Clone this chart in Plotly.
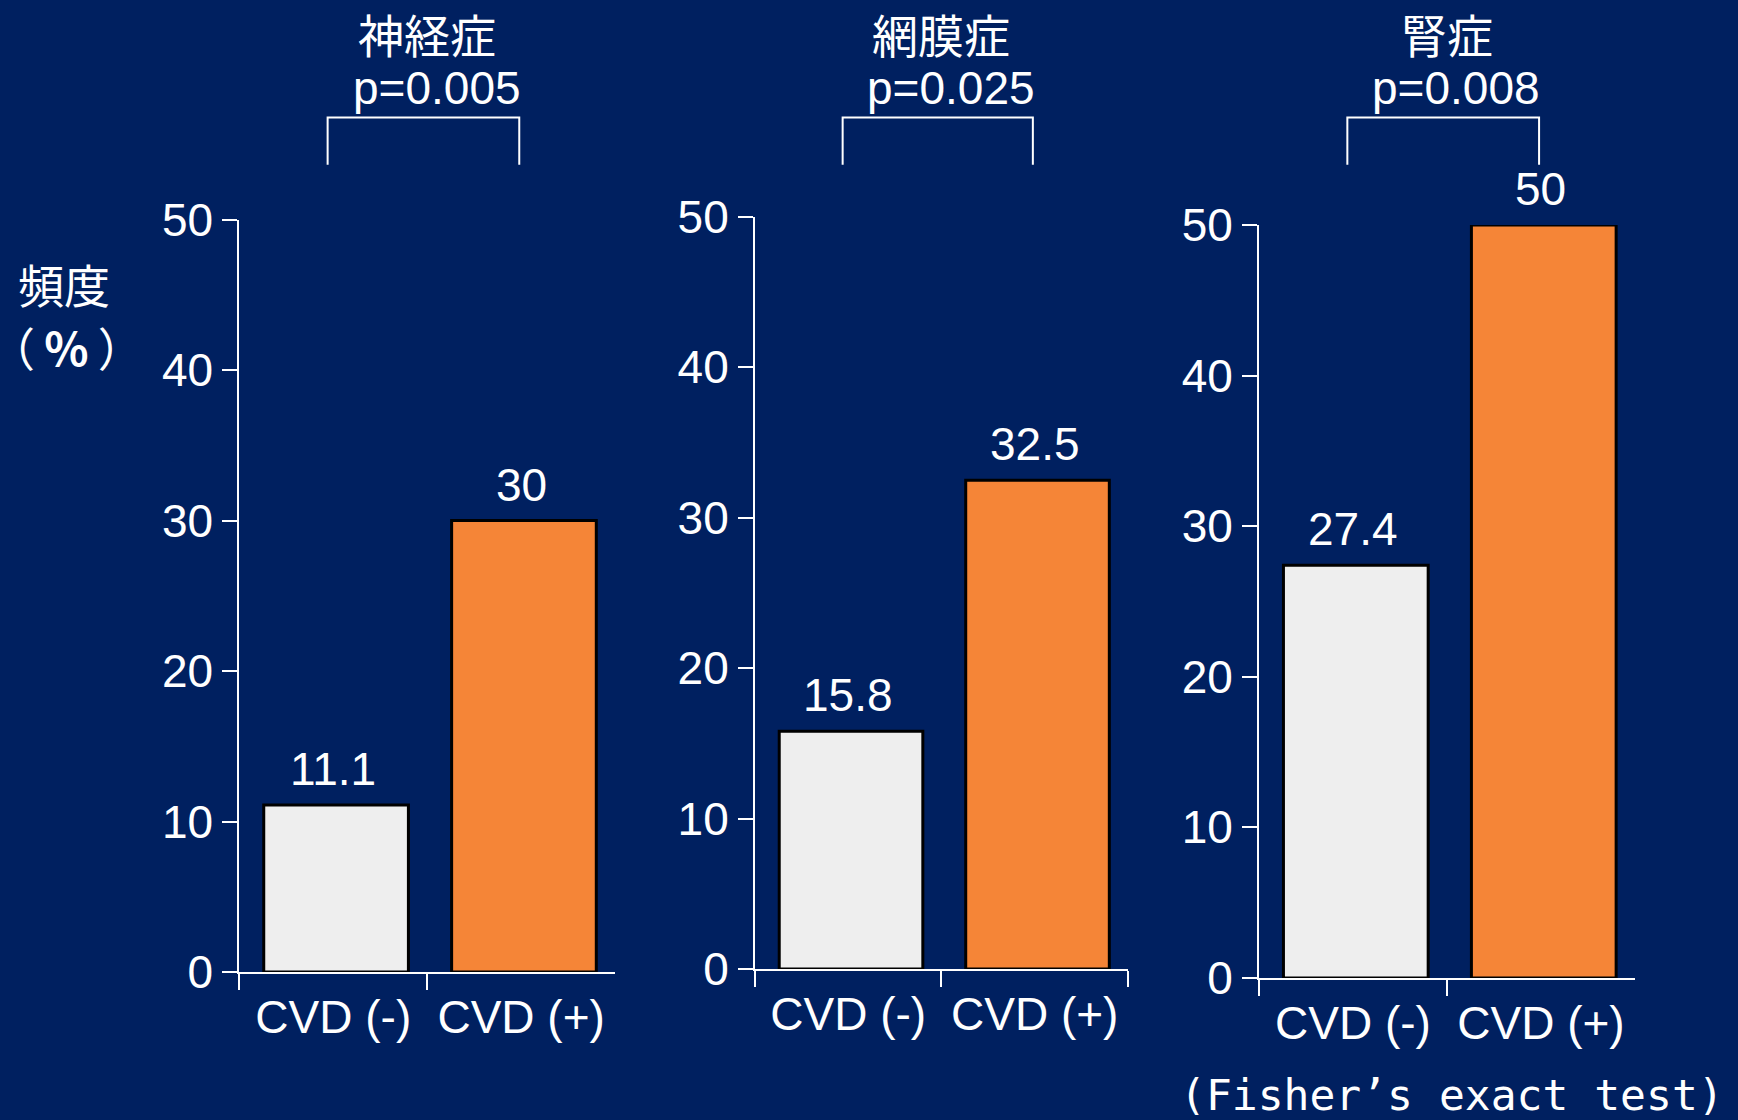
import plotly.graph_objects as go

# ---- data ----
categories = ["CVD (-)", "CVD (+)"]
panel_titles = ["神経症", "網膜症", "腎症"]
p_values = ["p=0.005", "p=0.025", "p=0.008"]
neuropathy = [11.1, 30.0]
retinopathy = [15.8, 32.5]
nephropathy = [27.4, 50.0]
series = [neuropathy, retinopathy, nephropathy]
value_labels = [["11.1", "30"], ["15.8", "32.5"], ["27.4", "50"]]
y_ticks = [0, 10, 20, 30, 40, 50]

BG = "#002060"
BAR_COLORS = ["#EEEEEE", "#F58537"]
FONT = "Liberation Sans, Arial, sans-serif"
CJK = "Noto Sans CJK JP, sans-serif"
FS = 46

# panel layout (paper fractions)
x_domains = [[0.1377, 0.3539], [0.4344, 0.6490], [0.7244, 0.9407]]
y_domains = [[0.1321, 0.8040], [0.1348, 0.8063], [0.1268, 0.7991]]

fig = go.Figure()
annotations = []
shapes = []
for i, vals in enumerate(series):
    xa = "x" if i == 0 else f"x{i+1}"
    ya = "y" if i == 0 else f"y{i+1}"
    fig.add_trace(go.Bar(
        x=categories, y=vals, xaxis=xa, yaxis=ya,
        marker=dict(color=BAR_COLORS, line=dict(color="black", width=3)),
        width=0.77, offset=-0.37, showlegend=False, hoverinfo="skip",
    ))
    ax_key = "xaxis" if i == 0 else f"xaxis{i+1}"
    ay_key = "yaxis" if i == 0 else f"yaxis{i+1}"
    fig.layout[ax_key] = dict(
        domain=x_domains[i], anchor=ya, type="category",
        tickson="boundaries", ticks="outside", ticklen=16, tickwidth=2,
        tickcolor="white", showline=True, linecolor="white", linewidth=2,
        showgrid=False, tickfont=dict(family=FONT, size=FS, color="white"),
        range=[-0.5, 1.5], ticklabelstandoff=4, automargin=False,
    )
    fig.layout[ay_key] = dict(
        domain=y_domains[i], anchor=xa, range=[0, 50], tickvals=y_ticks,
        ticks="outside", ticklen=15, tickwidth=2, tickcolor="white",
        showline=True, linecolor="white", linewidth=2, showgrid=False,
        zeroline=False, tickfont=dict(family=FONT, size=FS, color="white"),
        ticklabelstandoff=0, automargin=False,
    )
    # value labels
    for c, v, lab in zip(categories, vals, value_labels[i]):
        annotations.append(dict(
            x=c, y=v, xref=xa, yref=ya, text=lab, showarrow=False,
            xanchor="center", yanchor="bottom", yshift=8,
            font=dict(family=FONT, size=FS, color="white"),
        ))
    # titles and p-values centred on the middle boundary
    annotations.append(dict(
        x=0.5, y=0.9705, xref=xa, yref="paper", text=panel_titles[i],
        xanchor="center", yanchor="middle",
        showarrow=False, font=dict(family=CJK, size=FS, color="white"),
    ))
    annotations.append(dict(
        x=0.55, y=0.921, xref=xa, yref="paper", text=p_values[i],
        xanchor="center", yanchor="middle",
        showarrow=False, font=dict(family=FONT, size=FS, color="white"),
    ))
    # bracket
    shapes.append(dict(
        type="path", xref=xa, yref="paper",
        path="M -0.03,0.853 L -0.03,0.895 L 0.99,0.895 L 0.99,0.853",
        line=dict(color="white", width=2),
    ))

# y-axis title (two lines)
annotations.append(dict(
    x=0.0368, y=0.7473, xref="paper", yref="paper",
    xanchor="center", yanchor="middle", borderpad=0,
    text="頻度", showarrow=False,
    font=dict(family=CJK, size=FS, color="white"),
))
annotations.append(dict(
    x=0.038, y=0.6915, xref="paper", yref="paper",
    xanchor="center", yanchor="middle", borderpad=0,
    text="（\u2009<b>%</b>\u2009）", showarrow=False,
    font=dict(family=CJK, size=FS, color="white"),
))
annotations.append(dict(
    x=0.8355, y=0.0223, xref="paper", yref="paper",
    xanchor="center", yanchor="middle",
    text="(Fisher’s exact test)", showarrow=False,
    font=dict(family="DejaVu Sans Mono, monospace", size=43, color="white"),
))

fig.update_layout(
    template="none",
    width=1738, height=1120,
    margin=dict(l=0, r=0, t=0, b=0, pad=0, autoexpand=False),
    paper_bgcolor=BG, plot_bgcolor=BG,
    annotations=annotations, shapes=shapes,
    bargap=0.23,
)

fig.write_html("out.html")
